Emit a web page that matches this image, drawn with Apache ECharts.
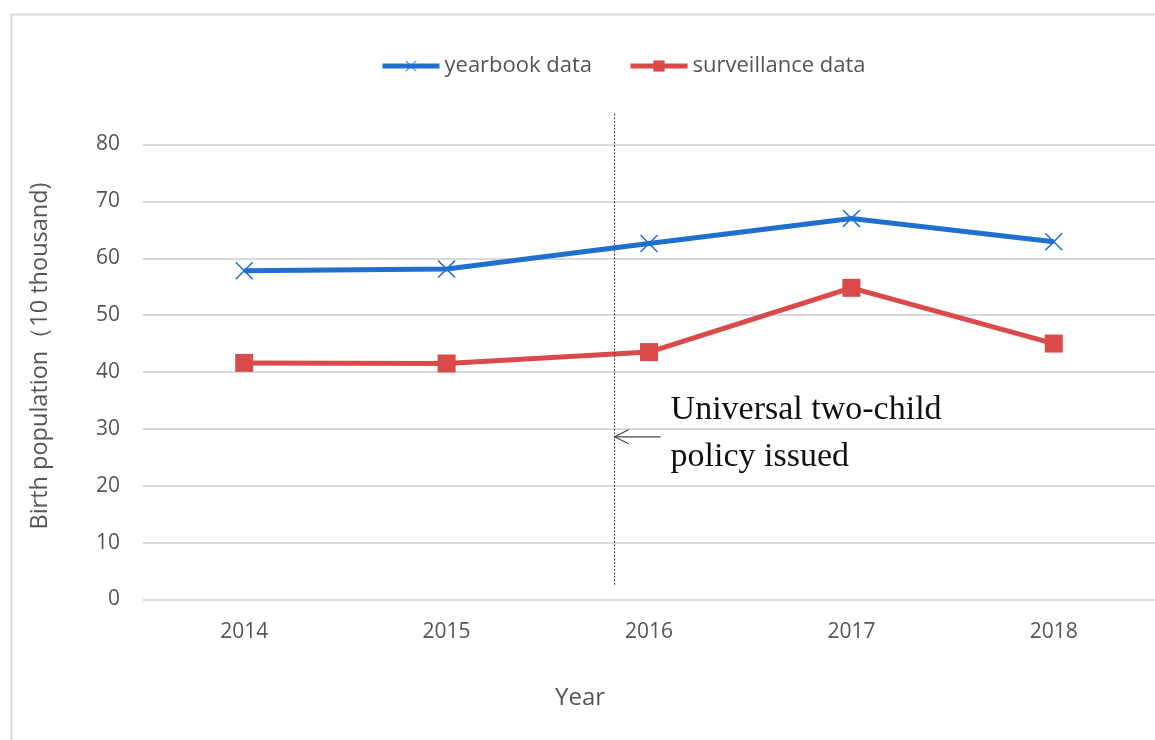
<!DOCTYPE html>
<html>
<head>
<meta charset="utf-8">
<script src="https://cdn.jsdelivr.net/npm/echarts@6/dist/echarts.min.js"></script>
<style>
html,body{margin:0;padding:0;background:#fff;}
#chart{width:1155px;height:740px;}
</style>
</head>
<body>
<div id="chart"></div>
<script>
// ---- data ----
const years = ['2014', '2015', '2016', '2017', '2018'];
const yearbookData = [57.8, 58.1, 62.6, 67.0, 62.9];
const surveillanceData = [41.6, 41.5, 43.5, 54.8, 45.0];
const seriesNames = ['yearbook data', 'surveillance data'];
const yTicks = [0, 10, 20, 30, 40, 50, 60, 70, 80];
const xAxisTitle = 'Year';
const yAxisTitle = 'Birth population（10 thousand)';
const policyText = ['Universal two-child', 'policy issued'];
const policyIndex = 1.83;          // position between 2015 and 2016 (category index)
const policyLineRange = [85.4, 2.6]; // vertical extent in y units

const chart = echarts.init(document.getElementById('chart'));
const labelFont = '"Open Sans", "Noto Sans", sans-serif';
const grey = '#555555';
const crossPath = 'path://M0,6 L6,0 L50,44 L94,0 L100,6 L56,50 L100,94 L94,100 L50,56 L6,100 L0,94 L44,50 Z';

chart.setOption({
  animation: false,
  backgroundColor: '#fff',
  legend: {
    top: 50,
    left: 375,
    itemWidth: 57,
    itemHeight: 14,
    itemGap: 36,
    lineStyle: { width: 5 },
    textStyle: { fontFamily: labelFont, fontSize: 22, color: grey },
    data: seriesNames
  },
  grid: { left: 143, right: -2, top: 144.5, bottom: 140.5, containLabel: false },
  xAxis: {
    type: 'category',
    data: years,
    boundaryGap: true,
    axisLine: { show: false },
    axisTick: { show: false },
    axisLabel: { fontFamily: labelFont, fontSize: 21, color: grey, margin: 22 }
  },
  yAxis: {
    type: 'value',
    min: yTicks[0],
    max: yTicks[yTicks.length - 1],
    interval: yTicks[1] - yTicks[0],
    axisLine: { show: false },
    axisTick: { show: false },
    axisLabel: { fontFamily: labelFont, fontSize: 21, color: grey, margin: 23 },
    splitLine: { lineStyle: { color: '#d9d9d9', width: 2 } }
  },
  series: [
    {
      name: seriesNames[0],
      type: 'line',
      data: yearbookData,
      symbol: crossPath,
      symbolSize: 18,
      lineStyle: { color: '#1f6fcf', width: 5 },
      itemStyle: { color: '#1f6fcf' },
      z: 3
    },
    {
      name: seriesNames[1],
      type: 'line',
      data: surveillanceData,
      symbol: 'rect',
      symbolSize: 18,
      lineStyle: { color: '#db4a4a', width: 5 },
      itemStyle: { color: '#db4a4a' },
      z: 2
    }
  ]
});

// annotation positions derived from the chart's own scales
const xA = chart.convertToPixel({ xAxisIndex: 0 }, years[Math.floor(policyIndex)]);
const xB = chart.convertToPixel({ xAxisIndex: 0 }, years[Math.ceil(policyIndex)]);
const px = xA + (xB - xA) * (policyIndex - Math.floor(policyIndex));
const yTop = chart.convertToPixel({ yAxisIndex: 0 }, policyLineRange[0]);
const yBot = chart.convertToPixel({ yAxisIndex: 0 }, policyLineRange[1]);
const yArrow = chart.convertToPixel({ yAxisIndex: 0 }, 28.6);
const yText = chart.convertToPixel({ yAxisIndex: 0 }, 29.2);

chart.setOption({
  graphic: [
    { type: 'rect', shape: { x: 11.5, y: 14.5, width: 1300, height: 900 },
      style: { fill: 'none', stroke: '#d9d9d9', lineWidth: 2 }, silent: true, z: -1 },
    { type: 'line', shape: { x1: px, y1: yTop, x2: px, y2: yBot },
      style: { stroke: '#333', lineWidth: 1, lineDash: [2, 1.5] }, z: 10 },
    { type: 'polyline', shape: { points: [[px + 46, yArrow], [px, yArrow]] },
      style: { stroke: '#444', lineWidth: 1.2, fill: 'none' }, z: 10 },
    { type: 'polyline', shape: { points: [[px + 14, yArrow - 7], [px, yArrow], [px + 14, yArrow + 7]] },
      style: { stroke: '#444', lineWidth: 1.2, fill: 'none' }, z: 10 },
    { type: 'text', x: px + 56, y: yText, z: 10,
      style: { text: policyText.join('\n'), font: '34px "Liberation Serif", "Times New Roman", serif',
        fill: '#111', lineHeight: 47, verticalAlign: 'middle', align: 'left' } },
    { type: 'text', x: 580, y: 698, z: 10,
      style: { text: xAxisTitle, font: '24px ' + labelFont, fill: grey, align: 'center', verticalAlign: 'middle' } },
    { type: 'text', x: 40, y: 356, rotation: Math.PI / 2, z: 10,
      style: { text: yAxisTitle, font: '23.5px ' + labelFont, fill: grey, align: 'center', verticalAlign: 'middle' } }
  ]
});
</script>
</body>
</html>
